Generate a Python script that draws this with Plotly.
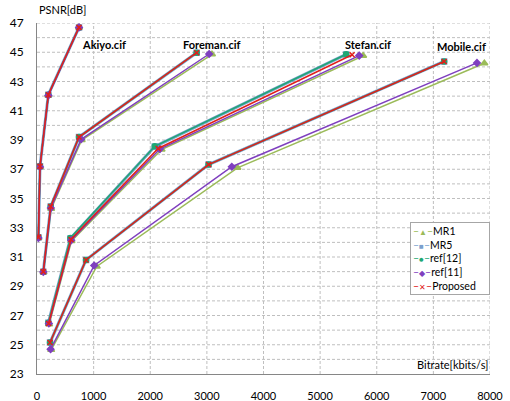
import plotly.graph_objects as go

# Sequences (clusters), each with 4 rate points; None separates sequences
sequences = ["Akiyo.cif", "Foreman.cif", "Stefan.cif", "Mobile.cif"]

# Bitrate [kbit/s] and PSNR [dB] per series (4 sequences x 4 QPs)
mr1_x = [25, 53, 200, 742, None, 115, 250, 790, 3090, None, 215, 610, 2200, 5760, None, 250, 1055, 3540, 7900]
mr1_y = [32.3, 37.15, 42.05, 46.7, None, 29.95, 34.3, 39.0, 44.86, None, 26.4, 32.1, 38.35, 44.76, None, 24.65, 30.35, 37.1, 44.25]

mr5_x = [25, 53, 200, 742, None, 111, 242, 742, 2820, None, 200, 590, 2080, 5460, None, 230, 866, 3030, 7190]
mr5_y = [32.35, 37.2, 42.1, 46.7, None, 30.0, 34.45, 39.2, 44.97, None, 26.5, 32.27, 38.55, 44.85, None, 25.15, 30.8, 37.32, 44.37]

ref12_x = [25, 53, 200, 742, None, 111, 242, 742, 2820, None, 200, 590, 2080, 5460, None, 230, 866, 3030, 7190]
ref12_y = [32.35, 37.2, 42.1, 46.7, None, 30.0, 34.45, 39.2, 44.97, None, 26.5, 32.3, 38.57, 44.86, None, 25.15, 30.8, 37.32, 44.37]

ref11_x = [25, 53, 200, 742, None, 111, 245, 780, 3040, None, 210, 605, 2170, 5690, None, 240, 1010, 3440, 7770]
ref11_y = [32.3, 37.15, 42.05, 46.7, None, 29.97, 34.35, 39.05, 44.88, None, 26.45, 32.15, 38.38, 44.77, None, 24.7, 30.42, 37.17, 44.27]

prop_x = [25, 53, 200, 742, None, 111, 242, 742, 2820, None, 205, 600, 2140, 5565, None, 230, 866, 3030, 7190]
prop_y = [32.35, 37.2, 42.1, 46.7, None, 30.0, 34.45, 39.2, 44.97, None, 26.45, 32.2, 38.42, 44.83, None, 25.15, 30.8, 37.32, 44.37]

label_x = [1175, 3087, 5839, 7497]
label_y = [45.5, 45.55, 45.56, 45.38]

x_ticks = [0, 1000, 2000, 3000, 4000, 5000, 6000, 7000, 8000]
y_ticks = [23, 25, 27, 29, 31, 33, 35, 37, 39, 41, 43, 45, 47]
y_grid = list(range(24, 48))

FONT = "Lato, Open Sans, sans-serif"
GRID = "#BFBFBF"

fig = go.Figure()
series = [
    ("MR1", mr1_x, mr1_y, "#9BBB59", "triangle-up", 1.5, 6, "▲"),
    ("MR5", mr5_x, mr5_y, "rgba(79,129,189,0.75)", "square", 3, 5, "■"),
    ("ref[12]", ref12_x, ref12_y, "#1FA873", "circle", 1.5, 5, "●"),
    ("ref[11]", ref11_x, ref11_y, "#7F3FBF", "diamond", 1.5, 5, "◆"),
    ("Proposed", prop_x, prop_y, "#E0201B", "x-thin", 1.5, 5, "✕"),
]
legend_lines = []
for name, xs, ys, col, sym, w, ms, glyph in series:
    fig.add_trace(go.Scatter(
        x=xs, y=ys, name=name, mode="lines+markers",
        line=dict(color=col, width=w),
        marker=dict(symbol=sym, size=ms, color=col, line=dict(color=col, width=1.5)),
        connectgaps=False, showlegend=False,
    ))
    legend_lines.append(
        "<span style='color:%s'>–<span style='font-size:8px'>%s</span>–</span>%s" % (col, glyph, name))

# legend box (text-based, compact like the original)
fig.add_annotation(x=0.8234, y=0.433, xref="paper", yref="paper",
                   text="<br>".join(legend_lines), showarrow=False,
                   xanchor="left", yanchor="top", align="left",
                   bgcolor="white", bordercolor="#A6A6A6", borderwidth=1, borderpad=2,
                   width=74,
                   font=dict(family=FONT, size=10.5, color="#000000"))

for s, lx, ly in zip(sequences, label_x, label_y):
    fig.add_annotation(x=lx, y=ly, text="<b>%s</b>" % s, showarrow=False,
                       xanchor="center", yanchor="middle",
                       font=dict(family=FONT, size=11, color="#000000"))

fig.add_annotation(x=8000, y=23, xref="x", yref="y", text="Bitrate[kbits/s]",
                   showarrow=False, xanchor="right", yanchor="bottom", yshift=1,
                   font=dict(family=FONT, size=11, color="#000000"))
fig.add_annotation(x=0, y=1, xref="paper", yref="paper", text="PSNR[dB]",
                   showarrow=False, xanchor="left", yanchor="bottom", yshift=5,
                   font=dict(family=FONT, size=11, color="#000000"))

# dashed grid
for v in y_grid:
    fig.add_shape(type="line", xref="x", yref="y", x0=0, x1=8000, y0=v, y1=v,
                  line=dict(color=GRID, width=1, dash="3px,2px"), layer="below")
for v in x_ticks[1:]:
    fig.add_shape(type="line", xref="x", yref="y", x0=v, x1=v, y0=23, y1=47,
                  line=dict(color=GRID, width=1, dash="3px,2px"), layer="below")

fig.update_xaxes(range=[0, 8000], tickvals=x_ticks, showline=True, linecolor="#868686",
                 linewidth=1, showgrid=False, zeroline=False, ticks="",
                 ticklabelstandoff=12, automargin=False,
                 tickfont=dict(family=FONT, size=11, color="#000000"))
fig.update_yaxes(range=[23, 47], tickvals=y_ticks, showline=True, linecolor="#868686",
                 linewidth=1, showgrid=False, zeroline=False, ticks="",
                 ticklabelstandoff=10, automargin=False,
                 tickfont=dict(family=FONT, size=12, color="#000000"))

fig.update_layout(
    width=510, height=401,
    margin=dict(l=37, r=20, t=23, b=27),
    paper_bgcolor="white", plot_bgcolor="white",
    showlegend=False,
)
fig.write_html("out.html", config={"displayModeBar": False},
               post_script="document.body.style.margin='0px';document.body.style.overflow='hidden';")
